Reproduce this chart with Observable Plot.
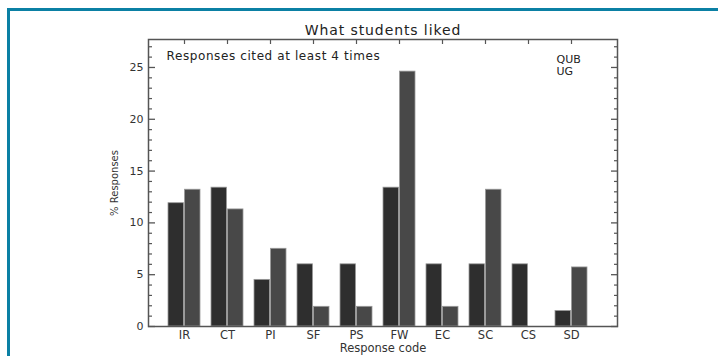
<!DOCTYPE html>
<html>
<head>
<meta charset="utf-8">
<script src="https://cdn.jsdelivr.net/npm/d3@7"></script>
<script src="https://cdn.jsdelivr.net/npm/@observablehq/plot@0.6"></script>
<style>
  html, body { margin: 0; padding: 0; background: #fff; }
  #wrap { position: relative; width: 718px; height: 356px; overflow: hidden; }
  #frame { position: absolute; left: 7px; top: 8px; width: 720px; height: 360px;
           border-top: 3px solid #0b80a4; border-left: 3px solid #0b80a4; box-sizing: border-box; pointer-events: none; }
  #chart { position: absolute; left: 0; top: 0; }
</style>
</head>
<body>
<div id="wrap"><div id="chart"></div><div id="frame"></div></div>
<script>
const codes = ["IR", "CT", "PI", "SF", "PS", "FW", "EC", "SC", "CS", "SD"];
const qub = [11.9, 13.4, 4.5, 6.0, 6.0, 13.4, 6.0, 6.0, 6.0, 1.5];
const ug  = [13.2, 11.3, 7.5, 1.9, 1.9, 24.6, 1.9, 13.2, 0, 5.7];
const yMajor = [0, 5, 10, 15, 20, 25];
const yMinor = d3.range(0, 28, 1).filter(v => v % 5 !== 0);
const seriesNames = ["QUB", "UG"];

const rows = codes.map((c, i) => ({code: c, qub: qub[i], ug: ug[i]}));

const font = "DejaVu Sans, sans-serif";
const ink = "#333";
const axisInk = "#555";

const chart = Plot.plot({
  width: 718,
  height: 356,
  marginLeft: 148,
  marginRight: 101,
  marginTop: 39,
  marginBottom: 30,
  style: {fontFamily: font, fontSize: "11px", color: ink, background: "transparent"},
  x: {type: "band", domain: codes, paddingInner: 0.263, paddingOuter: 0.5285, align: 0.39, axis: null, label: null},
  y: {domain: [0, 27.7], axis: null, label: null},
  marks: [
    Plot.barY(rows, {x: "code", y: "qub", fill: "#2e2e2e", stroke: "#999", strokeWidth: 0.8, insetRight: 16.5}),
    Plot.barY(rows, {x: "code", y: "ug", fill: "#484848", stroke: "#999", strokeWidth: 0.8, insetLeft: 16.5}),
    Plot.frame({stroke: axisInk, strokeWidth: 1.5}),
    // left axis: labels, major and minor inward ticks
    Plot.axisY(yMajor, {anchor: "left", tickSize: 0, tickPadding: 5, fontSize: 11, fill: ink, label: null}),
    Plot.axisY(yMajor, {anchor: "left", tickSize: -7, fill: "none", stroke: axisInk, strokeWidth: 1.3, label: null}),
    Plot.axisY(yMinor, {anchor: "left", tickSize: -4, fill: "none", stroke: axisInk, strokeWidth: 1.2, label: null}),
    // right axis: inward ticks
    Plot.axisY(yMajor, {anchor: "right", tickSize: -7, fill: "none", stroke: axisInk, strokeWidth: 1.3, label: null}),
    Plot.axisY(yMinor, {anchor: "right", tickSize: -4, fill: "none", stroke: axisInk, strokeWidth: 1.2, label: null}),
    // top axis ticks at category centres
    Plot.axisX(codes, {anchor: "top", tickSize: -4, fill: "none", stroke: axisInk, strokeWidth: 1.2, label: null}),
    // bottom category labels
    Plot.axisX(codes, {anchor: "bottom", tickSize: 0, tickPadding: 4, fontSize: 11.5, fill: ink, label: null}),
    // titles and annotations
    Plot.text(["What students liked"], {frameAnchor: "top", dy: -9, lineAnchor: "middle", textAnchor: "middle", fontSize: 14, fill: "#222"}),
    Plot.text(["% Responses"], {frameAnchor: "left", rotate: -90, dx: -34, lineAnchor: "middle", textAnchor: "middle", fontSize: 10, fill: ink}),
    Plot.text(["Response code"], {frameAnchor: "bottom", dy: 22, lineAnchor: "middle", textAnchor: "middle", fontSize: 11.5, fill: ink}),
    Plot.text(["Responses cited at least 4 times"], {frameAnchor: "top-left", dx: 18, dy: 17, lineAnchor: "middle", textAnchor: "start", fontSize: 12, fill: "#222"}),
    Plot.text([seriesNames[0]], {frameAnchor: "top-right", dx: -61, dy: 20, lineAnchor: "middle", textAnchor: "start", fontSize: 11, fill: "#222"}),
    Plot.text([seriesNames[1]], {frameAnchor: "top-right", dx: -61, dy: 32, lineAnchor: "middle", textAnchor: "start", fontSize: 11, fill: "#222"})
  ]
});
document.getElementById("chart").appendChild(chart);
// letter spacing for the wide plotter-style texts
chart.querySelectorAll("text").forEach(t => {
  if (t.textContent.startsWith("Responses cited")) t.style.letterSpacing = "0.6px";
  if (t.textContent === "What students liked") t.style.letterSpacing = "0.9px";
});
</script>
</body>
</html>
